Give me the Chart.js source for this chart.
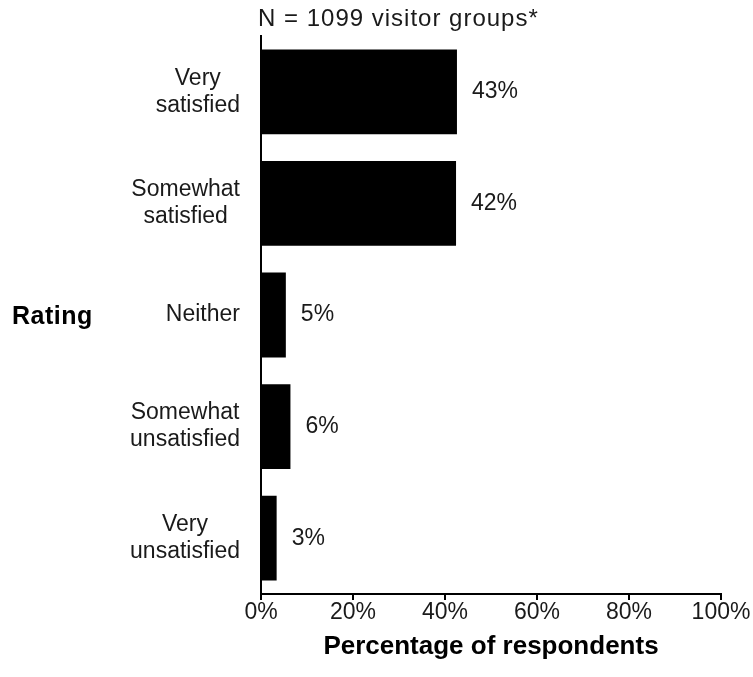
<!DOCTYPE html>
<html>
<head>
<meta charset="utf-8">
<script src="https://cdn.jsdelivr.net/npm/chart.js@4.4.1/dist/chart.umd.min.js"></script>
<style>
  html, body { margin: 0; padding: 0; background: #fff; }
  #wrap { width: 753px; height: 677px; position: relative; }
</style>
</head>
<body>
<div id="wrap"><canvas id="ratingChart"></canvas></div>
<script>
// Datos
var categories = [['Very', 'satisfied'], ['Somewhat', 'satisfied'], ['Neither'], ['Somewhat', 'unsatisfied'], ['Very', 'unsatisfied']];
var percents = [42.6, 42.4, 5.4, 6.4, 3.4];
var xTicks = [0, 20, 40, 60, 80, 100];
var chartTitle = 'N = 1099 visitor groups*';
var yTitle = 'Rating';
var xTitle = 'Percentage of respondents';

var FONT = "'Liberation Sans', Arial, sans-serif";

// Etiquetas de categoria (bloque alineado a la derecha, lineas centradas), valores, titulo y "Rating"
var extraText = {
    id: 'extraText',
    afterDatasetsDraw: function (chart) {
        var ctx = chart.ctx;
        var area = chart.chartArea;
        var yScale = chart.scales.y;
        ctx.save();
        ctx.fillStyle = '#1a1a1a';
        ctx.textBaseline = 'middle';

        // categorias
        ctx.font = '23px ' + FONT;
        ctx.textAlign = 'center';
        categories.forEach(function (lines, i) {
            var w = 0;
            lines.forEach(function (l) { w = Math.max(w, ctx.measureText(l).width); });
            var cx = area.left - 21 - w / 2;
            var cy = yScale.getPixelForTick(i);
            lines.forEach(function (l, j) {
                ctx.fillText(l, cx, cy + (j - (lines.length - 1) / 2) * 27);
            });
        });

        // valores
        ctx.textAlign = 'left';
        chart.getDatasetMeta(0).data.forEach(function (bar, i) {
            ctx.fillText(Math.round(percents[i]) + '%', bar.x + 15, bar.y);
        });

        // titulo
        ctx.font = '24px ' + FONT;
        ctx.letterSpacing = '1px';
        ctx.fillText(chartTitle, area.left - 3, 19);

        // titulo del eje y
        ctx.font = 'bold 25px ' + FONT;
        ctx.letterSpacing = '0.5px';
        ctx.fillStyle = '#000';
        ctx.fillText(yTitle, 12, (area.top + area.bottom) / 2 + 2);
        ctx.restore();
    }
};

var ctx = document.getElementById('ratingChart').getContext('2d');
var ratingChart = new Chart(ctx, {
    type: 'bar',
    data: {
        labels: categories,
        datasets: [{
            data: percents,
            backgroundColor: '#000',
            borderWidth: 0,
            categoryPercentage: 1,
            barPercentage: 0.76
        }]
    },
    options: {
        indexAxis: 'y',
        responsive: true,
        maintainAspectRatio: false,
        animation: false,
        layout: { padding: { top: 36, right: 32, left: 0, bottom: 0 } },
        plugins: {
            legend: { display: false },
            tooltip: { enabled: false }
        },
        scales: {
            x: {
                min: 0,
                max: 100,
                afterBuildTicks: function (scale) {
                    scale.ticks = xTicks.map(function (v) { return { value: v }; });
                },
                afterFit: function (scale) { scale.height = 83; },
                grid: { display: true, drawOnChartArea: false, drawTicks: true, tickLength: 6, color: '#000', lineWidth: 2 },
                border: { display: true, color: '#000', width: 2 },
                ticks: {
                    padding: -1,
                    color: '#1a1a1a',
                    font: { size: 23, family: FONT },
                    callback: function (v) { return v + '%'; },
                    maxRotation: 0
                },
                title: {
                    display: true,
                    text: xTitle,
                    color: '#000',
                    font: { size: 26, weight: 'bold', family: FONT },
                    padding: { top: 0, bottom: 15 }
                }
            },
            y: {
                afterFit: function (scale) { scale.width = 261; },
                grid: { display: false, drawTicks: false },
                border: { display: true, color: '#000', width: 2 },
                ticks: { display: false }
            }
        }
    },
    plugins: [extraText]
});
</script>
</body>
</html>
